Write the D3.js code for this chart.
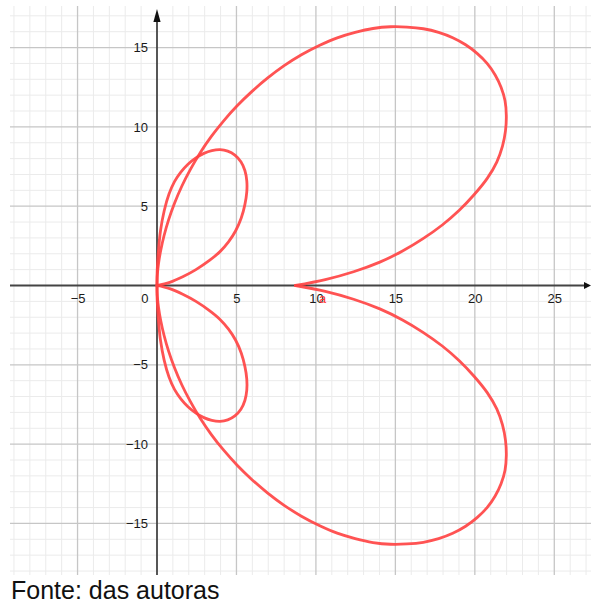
<!DOCTYPE html>
<html>
<head>
<meta charset="utf-8">
<script src="https://cdn.jsdelivr.net/npm/d3@7"></script>
<style>
  html, body { margin: 0; padding: 0; background: #ffffff; }
  svg { display: block; }
  text { font-family: "Liberation Sans", Arial, sans-serif; }
</style>
</head>
<body>
<svg id="chart" width="591" height="604"></svg>
<script>
// Tick labels shown on each axis
const xTickValues = [-5, 0, 5, 10, 15, 20, 25];
const yTickValues = [-15, -10, -5, 5, 10, 15];

// Curve traced as four pieces, each as [x, y] points
// Upper outer loop: from the point on the x-axis round to the origin
const upperOuterLoop = [
  [8.71, 0], [10.59, 0.37], [12.37, 0.865], [14.02, 1.474], [15.45, 2.171],
  [16.74, 2.952], [17.95, 3.815], [19.02, 4.742], [19.95, 5.719], [20.78, 6.752],
  [21.38, 7.781], [21.74, 8.785], [21.93, 9.762], [21.98, 10.718], [21.90, 11.643],
  [21.65, 12.5], [21.27, 13.29], [20.77, 14.008], [20.14, 14.636], [19.42, 15.176],
  [18.61, 15.62], [17.72, 15.959], [16.76, 16.186], [15.73, 16.293], [14.69, 16.312],
  [13.59, 16.202], [12.47, 15.957], [11.34, 15.614], [10.21, 15.13], [9.088, 14.544],
  [8.0, 13.856], [6.948, 13.068], [5.962, 12.224], [5.044, 11.328], [4.196, 10.384],
  [3.42, 9.397], [2.719, 8.369], [2.095, 7.306], [1.56, 6.258], [1.102, 5.184],
  [0.729, 4.136], [0.438, 3.119], [0.23, 2.188], [0.098, 1.397], [0.024, 0.7], [0, 0]
];
// Upper inner loop: from the origin along the lower arc, over the top and back down
const upperInnerLoop = [
  [0, 0], [0.8, 0.2], [1.62, 0.55], [2.45, 1.0], [3.3, 1.58], [3.95, 2.12],
  [4.5, 2.75], [4.95, 3.45], [5.3, 4.25], [5.53, 5.1], [5.65, 5.9], [5.65, 6.6],
  [5.53, 7.25], [5.28, 7.8], [4.9, 8.22], [4.45, 8.47], [3.97, 8.56], [3.45, 8.5],
  [2.95, 8.33], [2.45, 8.05], [1.95, 7.65], [1.5, 7.15], [1.1, 6.55], [0.75, 5.75],
  [0.45, 4.7], [0.22, 3.45], [0.08, 2.05], [0.01, 0.9], [0, 0]
];
// Lower outer loop
const lowerOuterLoop = [
  [8.71, 0], [10.59, -0.37], [12.37, -0.865], [14.02, -1.474], [15.45, -2.171],
  [16.74, -2.952], [17.95, -3.815], [19.02, -4.742], [19.95, -5.719], [20.78, -6.752],
  [21.38, -7.781], [21.74, -8.785], [21.93, -9.762], [21.98, -10.718], [21.90, -11.643],
  [21.65, -12.5], [21.27, -13.29], [20.77, -14.008], [20.14, -14.636], [19.42, -15.176],
  [18.61, -15.62], [17.72, -15.959], [16.76, -16.186], [15.73, -16.293], [14.69, -16.312],
  [13.59, -16.202], [12.47, -15.957], [11.34, -15.614], [10.21, -15.13], [9.088, -14.544],
  [8.0, -13.856], [6.948, -13.068], [5.962, -12.224], [5.044, -11.328], [4.196, -10.384],
  [3.42, -9.397], [2.719, -8.369], [2.095, -7.306], [1.56, -6.258], [1.102, -5.184],
  [0.729, -4.136], [0.438, -3.119], [0.23, -2.188], [0.098, -1.397], [0.024, -0.7], [0, 0]
];
// Lower inner loop
const lowerInnerLoop = [
  [0, 0], [0.8, -0.2], [1.62, -0.55], [2.45, -1.0], [3.3, -1.58], [3.95, -2.12],
  [4.5, -2.75], [4.95, -3.45], [5.3, -4.25], [5.53, -5.1], [5.65, -5.9], [5.65, -6.6],
  [5.53, -7.25], [5.28, -7.8], [4.9, -8.22], [4.45, -8.47], [3.97, -8.56], [3.45, -8.5],
  [2.95, -8.33], [2.45, -8.05], [1.95, -7.65], [1.5, -7.15], [1.1, -6.55], [0.75, -5.75],
  [0.45, -4.7], [0.22, -3.45], [0.08, -2.05], [0.01, -0.9], [0, 0]
];

const curvePieces = [upperOuterLoop, upperInnerLoop, lowerOuterLoop, lowerInnerLoop];

const svg = d3.select("#chart");
const plot = { left: 10, right: 591, top: 6, bottom: 575 };

const x = d3.scaleLinear().domain([-9.25, 27.31]).range([plot.left, plot.right]);
const y = d3.scaleLinear().domain([-18.25, 17.62]).range([plot.bottom, plot.top]);

svg.append("rect").attr("width", 591).attr("height", 604).attr("fill", "#ffffff");

// Grid: unit lines, with every fifth line darker
const grid = svg.append("g");
const xs = d3.range(Math.ceil(x.domain()[0]), Math.floor(x.domain()[1]) + 1);
const ys = d3.range(Math.ceil(y.domain()[0]), Math.floor(y.domain()[1]) + 1);

grid.selectAll("line.vx").data(xs.filter(d => d % 5 !== 0)).join("line")
  .attr("x1", d => x(d)).attr("x2", d => x(d))
  .attr("y1", plot.top).attr("y2", plot.bottom)
  .attr("stroke", "#ebebeb").attr("stroke-width", 1);
grid.selectAll("line.hy").data(ys.filter(d => d % 5 !== 0)).join("line")
  .attr("y1", d => y(d)).attr("y2", d => y(d))
  .attr("x1", plot.left).attr("x2", plot.right)
  .attr("stroke", "#ebebeb").attr("stroke-width", 1);
grid.selectAll("line.vmx").data(xs.filter(d => d % 5 === 0 && d !== 0)).join("line")
  .attr("x1", d => x(d)).attr("x2", d => x(d))
  .attr("y1", plot.top).attr("y2", plot.bottom)
  .attr("stroke", "#c6c6c6").attr("stroke-width", 1.3);
grid.selectAll("line.hmy").data(ys.filter(d => d % 5 === 0 && d !== 0)).join("line")
  .attr("y1", d => y(d)).attr("y2", d => y(d))
  .attr("x1", plot.left).attr("x2", plot.right)
  .attr("stroke", "#c6c6c6").attr("stroke-width", 1.3);

// Axes lines with arrow heads
const axisColor = "#444444";
svg.append("line")
  .attr("x1", plot.left).attr("x2", plot.right - 6)
  .attr("y1", y(0)).attr("y2", y(0))
  .attr("stroke", axisColor).attr("stroke-width", 1.8);
svg.append("line")
  .attr("x1", x(0)).attr("x2", x(0))
  .attr("y1", plot.bottom).attr("y2", 16)
  .attr("stroke", axisColor).attr("stroke-width", 1.8);
svg.append("path")
  .attr("d", `M${x(0)},9 L${x(0) - 3.6},22 L${x(0) + 3.6},22 Z`)
  .attr("fill", "#111");
svg.append("path")
  .attr("d", `M591,${y(0)} L584,${y(0) - 3.6} L584,${y(0) + 3.6} Z`)
  .attr("fill", "#111");

// Tick labels via d3 axes
const xAxis = d3.axisBottom(x).tickValues(xTickValues).tickSize(0).tickPadding(8)
  .tickFormat(d3.format("d"));
const gx = svg.append("g").attr("transform", `translate(0,${y(0)})`).call(xAxis);
gx.select(".domain").remove();
gx.selectAll("text")
  .attr("font-family", '"Liberation Sans", Arial, sans-serif')
  .attr("font-size", 13).attr("fill", "#1a1a1a");
gx.selectAll(".tick").filter(d => d === 0).select("text")
  .attr("text-anchor", "end").attr("x", -9);

const yAxis = d3.axisLeft(y).tickValues(yTickValues).tickSize(0).tickPadding(9)
  .tickFormat(d3.format("d"));
const gy = svg.append("g").attr("transform", `translate(${x(0)},0)`).call(yAxis);
gy.select(".domain").remove();
gy.selectAll("text")
  .attr("font-family", '"Liberation Sans", Arial, sans-serif')
  .attr("font-size", 13).attr("fill", "#1a1a1a");

// The curve
const line = d3.line()
  .x(d => x(d[0])).y(d => y(d[1]))
  .curve(d3.curveCatmullRom.alpha(0.5));

svg.append("g").selectAll("path").data(curvePieces).join("path")
  .attr("d", line)
  .attr("fill", "none")
  .attr("stroke", "#ff4444")
  .attr("stroke-opacity", 0.92)
  .attr("stroke-width", 2.8)
  .attr("stroke-linejoin", "round")
  .attr("stroke-linecap", "round");

// Curve label
svg.append("text")
  .attr("x", x(10) + 3).attr("y", y(0) + 17)
  .attr("font-size", 13).attr("fill", "#ff3333")
  .text("a");

// Source note
svg.append("text")
  .attr("x", 11).attr("y", 599)
  .attr("font-size", 25).attr("fill", "#111")
  .text("Fonte: das autoras");
</script>
</body>
</html>
